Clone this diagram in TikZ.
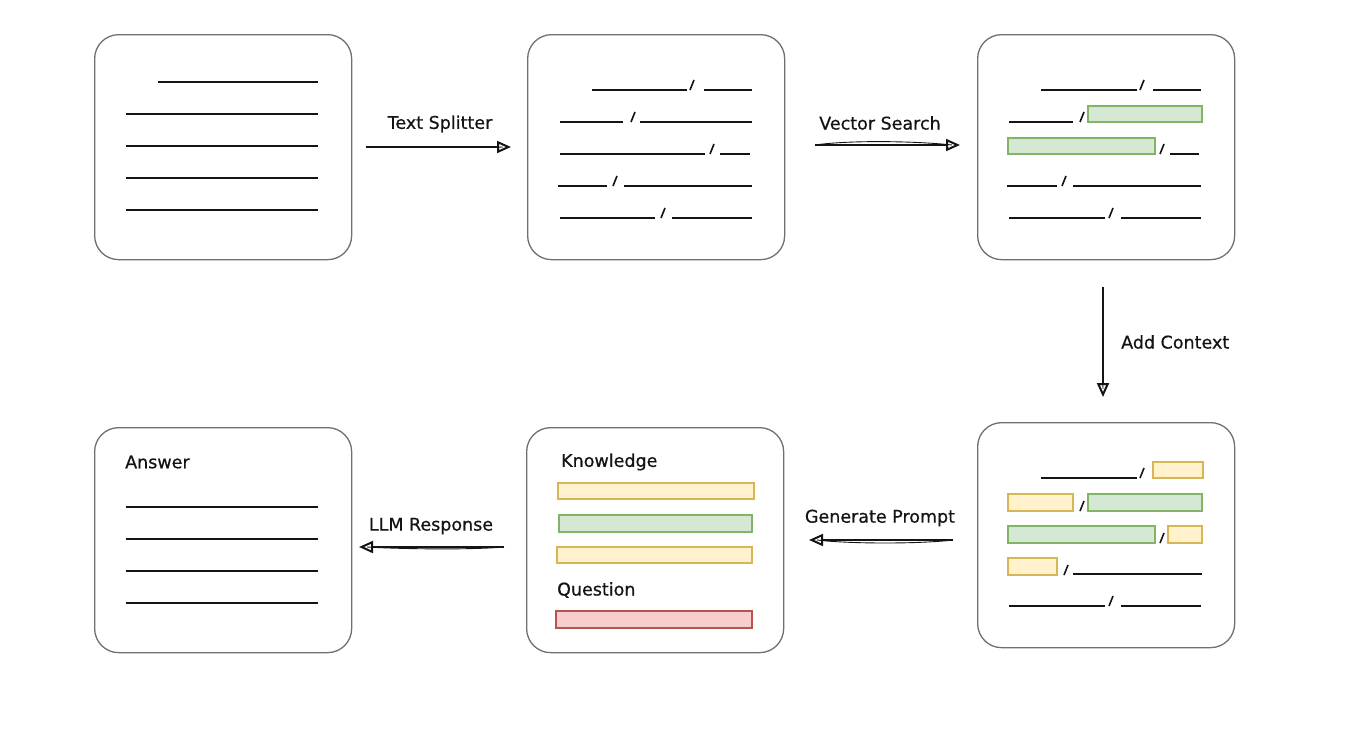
\documentclass[tikz,border=0pt]{standalone}
\usepackage{fontspec}
\setmainfont{DejaVu Sans}[FakeBold=0.6]
\usetikzlibrary{arrows.meta}

\definecolor{boxgray}{HTML}{707070}
\definecolor{ink}{HTML}{141414}
\definecolor{gfill}{HTML}{D5E8D4}
\definecolor{gline}{HTML}{82B366}
\definecolor{yfill}{HTML}{FFF2CC}
\definecolor{yline}{HTML}{D6B656}
\definecolor{rfill}{HTML}{F8CECC}
\definecolor{rline}{HTML}{B85450}

\tikzset{
  card/.style={draw=boxgray, line width=1.3pt, fill=white, rounded corners=24pt,
    minimum width=257pt, minimum height=225pt, anchor=north west, inner sep=0pt},
  txtline/.style={draw=ink, line width=1.6pt},
  greenbar/.style={draw=gline, fill=gfill, line width=1.3pt},
  yellowbar/.style={draw=yline, fill=yfill, line width=1.3pt},
  redbar/.style={draw=rline, fill=rfill, line width=1.3pt},
  lbl/.style={font=\fontsize{17.5}{21}\selectfont, text=ink, inner sep=0pt},
  flow/.style={draw=ink, line width=1.7pt,
    -{Triangle[open, length=14pt, width=12pt, line width=2pt]}},
  sketch/.style={draw=ink, line width=0.9pt},
}

% a text line segment, a slash between fragments, a highlighted fragment
\newcommand\seg[3]{\draw[txtline] (#1,#3) -- (#2,#3);}
\newcommand\cutmark[2]{\draw[txtline] (#1-2,#2) -- (#1+2,#2-10);}
\newcommand\hlbox[5]{\draw[#1] (#2,#3) rectangle (#4,#5);}

\begin{document}
\begin{tikzpicture}[x=1pt, y=-1pt]
\useasboundingbox (0,0) rectangle (1369,731);

% ---------- cards ----------
\node[card] (doc)     at (94,34)   {};
\node[card] (chunks)  at (527,34)  {};
\node[card] (found)   at (977,34)  {};
\node[card] (context) at (977,422) {};
\node[card] (prompt)  at (526,427) {};
\node[card] (answer)  at (94,427)  {};

% ---------- source document ----------
\seg{158}{318}{82}
\seg{126}{318}{114}
\seg{126}{318}{146}
\seg{126}{318}{178}
\seg{126}{318}{210}

% ---------- split chunks ----------
\seg{592}{687}{90}  \cutmark{692}{90}  \seg{704}{752}{90}
\seg{560}{623}{122} \cutmark{633}{122} \seg{640}{752}{122}
\seg{560}{705}{154} \cutmark{712}{154} \seg{720}{750}{154}
\seg{558}{607}{186} \cutmark{615}{186} \seg{624}{752}{186}
\seg{560}{655}{218} \cutmark{663}{218} \seg{672}{752}{218}

% ---------- search hits ----------
\seg{1041}{1137}{90}  \cutmark{1142}{90}  \seg{1153}{1201}{90}
\seg{1009}{1073}{122} \cutmark{1082}{122} \hlbox{greenbar}{1088}{106}{1202}{122}
\hlbox{greenbar}{1008}{138}{1155}{154} \cutmark{1162}{154} \seg{1170}{1199}{154}
\seg{1007}{1057}{186} \cutmark{1064}{186} \seg{1073}{1201}{186}
\seg{1009}{1105}{218} \cutmark{1111}{218} \seg{1121}{1201}{218}

% ---------- hits with added context ----------
\seg{1041}{1137}{478} \cutmark{1142}{478} \hlbox{yellowbar}{1153}{462}{1203}{478}
\hlbox{yellowbar}{1008}{494}{1073}{511} \cutmark{1082}{511} \hlbox{greenbar}{1088}{494}{1202}{511}
\hlbox{greenbar}{1008}{526}{1155}{543} \cutmark{1162}{543} \hlbox{yellowbar}{1168}{526}{1202}{543}
\hlbox{yellowbar}{1008}{558}{1057}{575} \cutmark{1066}{575} \seg{1073}{1202}{574}
\seg{1009}{1105}{606} \cutmark{1111}{606} \seg{1121}{1201}{606}

% ---------- prompt ----------
\node[lbl, anchor=west] (knowledge) at (561,462) {Knowledge};
\hlbox{yellowbar}{558}{483}{754}{499}
\hlbox{greenbar}{559}{515}{752}{532}
\hlbox{yellowbar}{557}{547}{752}{563}
\node[lbl, anchor=west] (question) at (557,590) {Question};
\hlbox{redbar}{556}{611}{752}{628}

% ---------- answer ----------
\node[lbl, anchor=west] (answerlbl) at (125,462) {Answer};
\seg{126}{318}{507}
\seg{126}{318}{539}
\seg{126}{318}{571}
\seg{126}{318}{603}

% ---------- flow arrows ----------
\coordinate (s1a) at (366,147);  \coordinate (s1b) at (511,147);
\coordinate (s2a) at (815,145);  \coordinate (s2b) at (960,145);
\coordinate (s3a) at (1103,287); \coordinate (s3b) at (1103,397);
\coordinate (s4a) at (953,540);  \coordinate (s4b) at (809,540);
\coordinate (s5a) at (504,547);  \coordinate (s5b) at (359,547);

\draw[flow] (s1a) -- (s1b);
\draw[sketch] (s1a) .. controls (420,146) and (470,148) .. ([xshift=-8pt]s1b);
\node[lbl] (l1) at (440,124) {Text Splitter};

\draw[flow] (s2a) -- (s2b);
\draw[sketch] (s2a) .. controls (850,140) and (915,141) .. ([xshift=-8pt]s2b);
\node[lbl] (l2) at (880,123) {Vector Search};

\draw[flow] (s3a) -- (s3b);
\draw[sketch] (s3a) .. controls (1104,320) and (1102,360) .. ([yshift=8pt]s3b);
\node[lbl, anchor=west] (l3) at (1121,342) {Add Context};

\draw[flow] (s4a) -- (s4b);
\draw[sketch] (s4a) .. controls (920,544) and (850,544) .. ([xshift=8pt]s4b);
\node[lbl] (l4) at (880,518) {Generate Prompt};

\draw[flow] (s5a) -- (s5b);
\draw[sketch] (s5a) .. controls (470,550) and (400,549) .. ([xshift=8pt]s5b);
\node[lbl] (l5) at (431,526) {LLM Response};
\end{tikzpicture}
\end{document}
